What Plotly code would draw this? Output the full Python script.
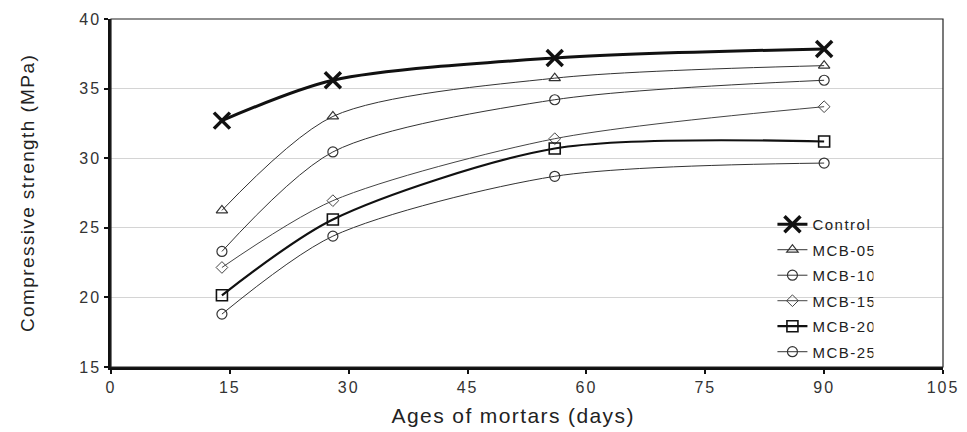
import plotly.graph_objects as go

ages = [14, 28, 56, 90]
control = [32.7, 35.6, 37.2, 37.85]
mcb05 = [26.25, 33.0, 35.75, 36.65]
mcb10 = [23.3, 30.45, 34.2, 35.6]
mcb15 = [22.15, 26.95, 31.4, 33.7]
mcb20 = [20.15, 25.6, 30.7, 31.2]
mcb25 = [18.8, 24.4, 28.7, 29.65]

x_ticks = [0, 15, 30, 45, 60, 75, 90, 105]
y_ticks = [15, 20, 25, 30, 35, 40]

series = [
    ("Control", control, "x-thin-open", 16, 3.0, 3.5, "#111111"),
    ("MCB-05", mcb05, "triangle-up-open", 10, 1.0, 1.2, "#333333"),
    ("MCB-10", mcb10, "circle-open", 10, 1.0, 1.2, "#333333"),
    ("MCB-15", mcb15, "diamond-open", 9, 1.0, 1.0, "#444444"),
    ("MCB-20", mcb20, "square-open", 11, 2.2, 1.6, "#111111"),
    ("MCB-25", mcb25, "circle-open", 10, 1.0, 1.2, "#333333"),
]

fig = go.Figure()
for name, vals, sym, size, lw, mlw, col in series:
    fig.add_trace(go.Scatter(
        x=ages, y=vals, name=name, mode="lines+markers", legendgroup=name,
        line=dict(shape="spline", smoothing=0.8, width=lw, color=col),
        marker=dict(symbol=sym, size=size, color=col, line=dict(width=mlw, color=col)),
    ))

font_family = "Liberation Sans, Arial, sans-serif"
fig.update_layout(
    width=967, height=432,
    margin=dict(l=111, r=24, t=19, b=65),
    paper_bgcolor="white", plot_bgcolor="white",
    font=dict(family=font_family, color="#222222"),
    showlegend=True,
    legend=dict(
        x=0.795, y=0.457, xanchor="left", yanchor="top",
        bgcolor="rgba(255,255,255,0)", font=dict(size=15, color="#222222"),
        tracegroupgap=3,
    ),
    xaxis=dict(
        range=[0, 105], tickvals=x_ticks, ticktext=[str(t) for t in x_ticks],
        showgrid=False, zeroline=False, showline=True, linecolor="#111111", linewidth=2.5,
        ticks="outside", ticklen=4, tickwidth=2, tickcolor="#111111",
        tickfont=dict(size=16, color="#333333"),
        automargin=False,
    ),
    yaxis=dict(
        range=[15, 40], tickvals=y_ticks, ticktext=[str(t) for t in y_ticks],
        showgrid=True, gridcolor="#d4d4d4", gridwidth=1, zeroline=False,
        showline=True, linecolor="#111111", linewidth=2.5,
        ticks="outside", ticklen=4, tickwidth=2, tickcolor="#111111",
        tickfont=dict(size=16, color="#333333"),
        title=dict(text="Compressive strength (MPa)", font=dict(size=19, color="#222222"), standoff=44),
        automargin=False,
    ),
    shapes=[dict(type="rect", xref="paper", yref="paper", x0=0, x1=1, y0=0, y1=1,
                 line=dict(color="#222222", width=1.2), layer="above")],
    annotations=[dict(text="Ages of mortars (days)", xref="paper", yref="paper",
                      x=0.483, y=-0.138, xanchor="center", yanchor="middle", showarrow=False,
                      font=dict(size=21, color="#222222"))],
)

post = """
document.body.style.margin='0';
document.querySelectorAll('.ytitle,.annotation-text').forEach(function(t){t.style.letterSpacing='1.4px';});
document.querySelectorAll('.xtick text,.ytick text').forEach(function(t){t.style.letterSpacing='2px';});
document.querySelectorAll('.legendtext').forEach(function(t){t.style.letterSpacing='1.5px';});
"""
fig.write_html("out.html", post_script=post, config={"displayModeBar": False})
